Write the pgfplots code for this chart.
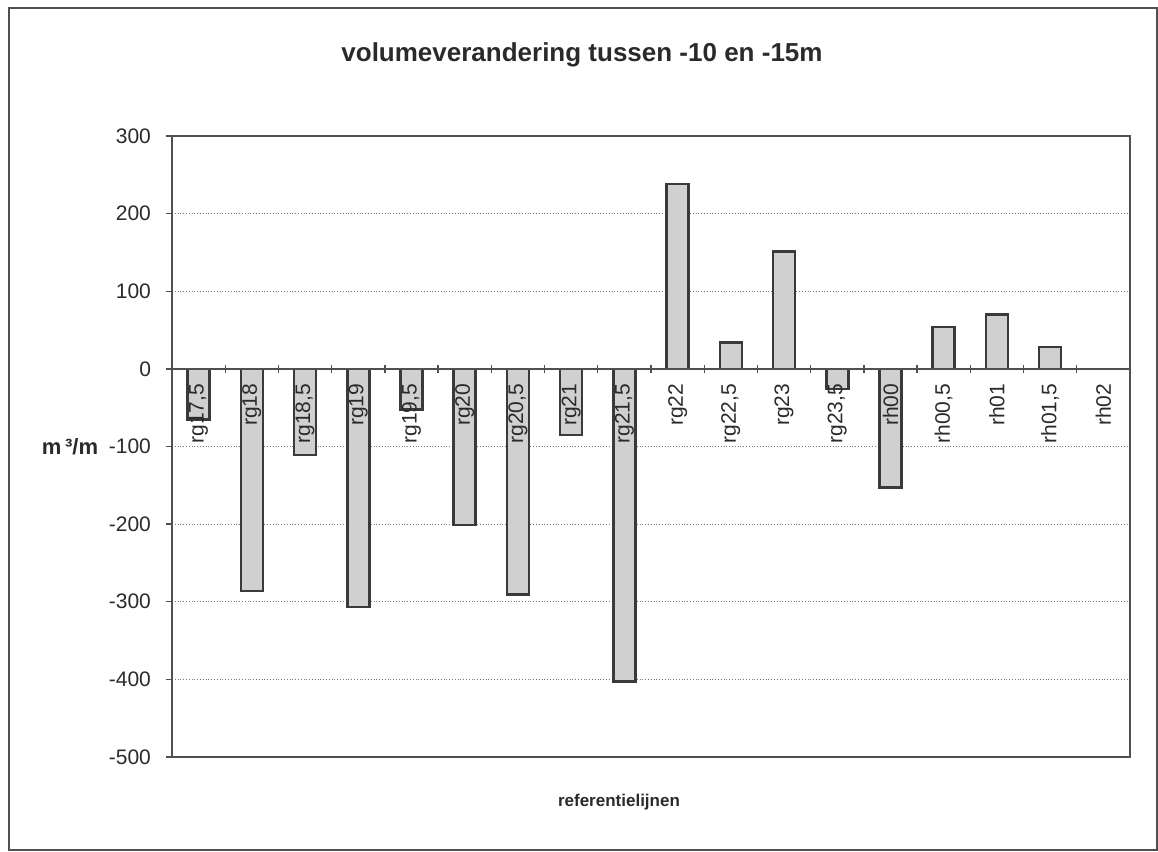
\documentclass[border=0pt]{standalone}
\usepackage{pgfplots}
\pgfplotsset{compat=1.18}
\usepackage{fontspec}
\setmainfont{Liberation Sans}
\definecolor{barfill}{HTML}{D0D0D0}
\definecolor{bardraw}{HTML}{3A3A3A}
\definecolor{gridc}{HTML}{7A7A7A}
\definecolor{axc}{HTML}{505050}
\definecolor{txt}{HTML}{2A2A2A}
\begin{document}
\begin{tikzpicture}
\useasboundingbox (0pt,0pt) rectangle (579pt,-426pt);
\draw[axc, line width=1pt] (4.5pt,-4pt) rectangle (578.5pt,-425pt);
\begin{axis}[
  at={(86pt,-378.5pt)}, anchor=south west,
  width=479pt, height=310.5pt, scale only axis,
  xmin=-0.5, xmax=17.5, ymin=-500, ymax=300,
  xtick=\empty,
  ytick={-500,-400,...,300},
  ytick pos=left,
  tick align=outside, major tick length=3pt,
  ymajorgrids, grid style={gridc, densely dotted, line width=0.5pt},
  axis line style={axc, line width=0.7pt},
  y tick style={axc, line width=0.7pt},
  /pgf/number format/assume math mode=true,
  y tick label style={font=\fontsize{10.5}{12}\selectfont, text=txt, xshift=-4pt},
  ybar, bar width=11pt,
]
\addplot[fill=barfill, draw=bardraw, line width=1.3pt] coordinates {
 (0,-65) (1,-286) (2,-111) (3,-307) (4,-52) (5,-201) (6,-291) (7,-85) (8,-403)
 (9,238) (10,34) (11,151) (12,-26) (13,-153) (14,54) (15,70) (16,28)
};
\end{axis}
\begin{axis}[
  at={(86pt,-378.5pt)}, anchor=south west,
  width=479pt, height=310.5pt, scale only axis,
  xmin=-0.5, xmax=17.5, ymin=-500, ymax=300,
  axis x line*=middle, axis y line=none,
  hide obscured x ticks=false,
  xtick={0,...,17},
  xticklabels={{rg17,5},{rg18},{rg18,5},{rg19},{rg19,5},{rg20},{rg20,5},{rg21},{rg21,5},{rg22},{rg22,5},{rg23},{rg23,5},{rh00},{rh00,5},{rh01},{rh01,5},{rh02}},
  major tick length=0pt,
  minor xtick={0.5,1.5,...,16.5},
  minor tick length=4pt, tick align=center,
  x axis line style={-, axc, line width=0.8pt},
  minor x tick style={axc, line width=0.7pt},
  x tick label style={rotate=90, anchor=east, font=\fontsize{10.5}{12}\selectfont, text=txt},
  xticklabel shift=4pt,
]
\addplot[draw=none] coordinates {(0,0)};
\end{axis}
\node[font=\fontsize{13}{15}\selectfont\bfseries, text=txt] at (291pt,-27.5pt) {volumeverandering tussen -10 en -15m};
\node[font=\fontsize{8.5}{10}\selectfont\bfseries, text=txt] at (309.5pt,-401pt) {referentielijnen};
\node[font=\fontsize{11}{13}\selectfont\bfseries, text=txt] at (35pt,-223.5pt) {m\,³/m};
\end{tikzpicture}
\end{document}
